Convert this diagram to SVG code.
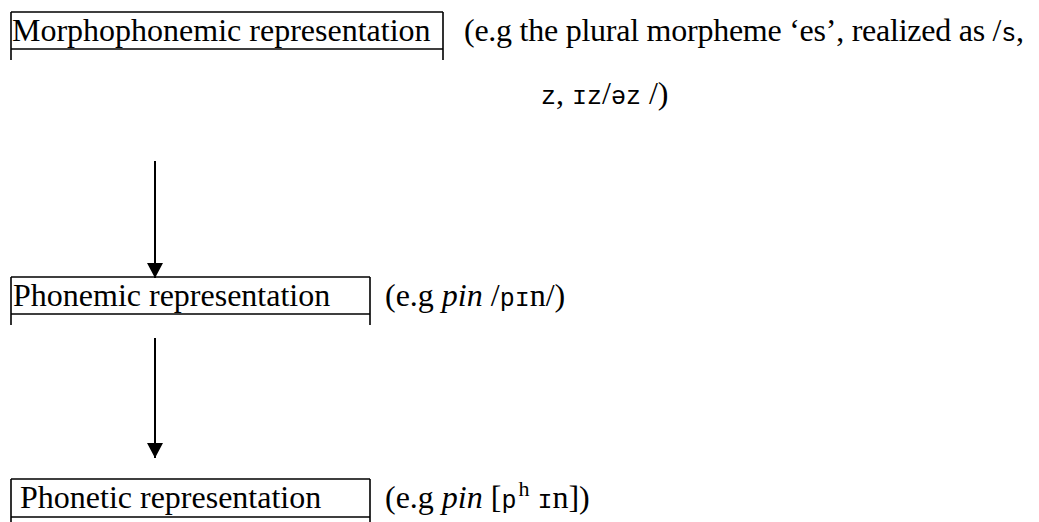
<svg xmlns="http://www.w3.org/2000/svg" width="1039" height="522" viewBox="0 0 1039 522">
  <style>
    .t { font-family: "Liberation Serif", "Times New Roman", serif; font-size: 32px; fill: #000; }
    .m { font-family: "Liberation Mono", "DejaVu Sans Mono", monospace; font-size: 25px; }
    .i { font-style: italic; }
    .box { fill: none; stroke: #000; stroke-width: 1.6; }
    .conn { stroke: #000; stroke-width: 2; fill: none; }
  </style>
  <defs>
    <marker id="arrow" markerUnits="userSpaceOnUse" markerWidth="18" markerHeight="18" refX="15" refY="8" orient="auto">
      <path d="M0,0 L15,8 L0,16 Z" fill="#000"/>
    </marker>
  </defs>
  <rect width="1039" height="522" fill="#fff"/>

  <g id="node-morphophonemic">
    <path class="box" d="M11,12 H443 M11,49 H443 M11,12 V60 M443,12 V60"/>
    <text class="t" x="12" y="41">Morphophonemic representation</text>
    <text class="t" x="464" y="41" textLength="560" lengthAdjust="spacing">(e.g the plural morpheme ‘es’, realized as /<tspan class="m">s</tspan>,</text>
    <text class="t" x="541" y="104"><tspan class="m">z</tspan>, <tspan class="m">ɪz</tspan>/<tspan class="m">əz</tspan> /)</text>
  </g>

  <g id="node-phonemic">
    <path class="box" d="M11,277 H370 M11,314 H370 M11,277 V325 M370,277 V325"/>
    <text class="t" x="13" y="306">Phonemic representation</text>
    <text class="t" x="385" y="306">(e.g <tspan class="i">pin</tspan> /<tspan class="m">pɪ</tspan>n/)</text>
  </g>

  <g id="node-phonetic">
    <path class="box" d="M11,479 H370 M11,517 H370 M11,479 V522 M370,479 V522"/>
    <text class="t" x="20" y="508">Phonetic representation</text>
    <text class="t" x="385" y="508">(e.g <tspan class="i">pin</tspan> [<tspan class="m" font-size="27">p</tspan><tspan font-size="22" dx="2" dy="-12">h</tspan><tspan dy="12"> </tspan><tspan class="m" font-size="27">ɪ</tspan>n])</text>
  </g>

  <g id="connectors">
    <line class="conn" x1="155" y1="161" x2="155" y2="278" marker-end="url(#arrow)"/>
    <line class="conn" x1="155" y1="338" x2="155" y2="458" marker-end="url(#arrow)"/>
  </g>
</svg>
